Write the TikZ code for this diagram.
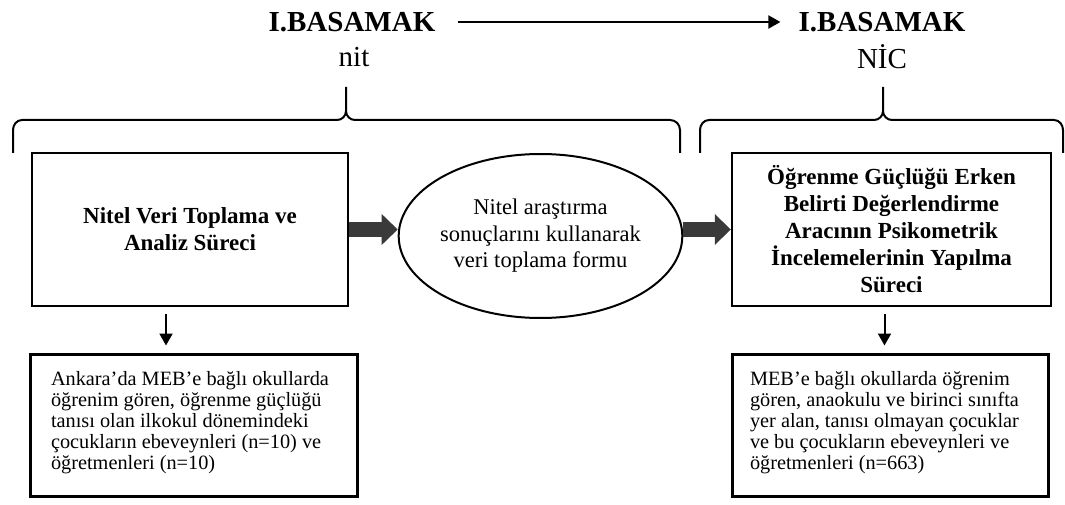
\documentclass[tikz,border=0pt]{standalone}
\usepackage{fontspec}
\setmainfont{Liberation Serif}
\usetikzlibrary{arrows.meta}
\usetikzlibrary{positioning}
\usetikzlibrary{shapes.geometric}
\definecolor{arrowgray}{HTML}{3A3A3A}
\newcommand{\samplebox}[2]{\raisebox{0pt}[\height][\dimexpr\depth+4pt\relax]{\parbox{#1}{#2}}}
\tikzstyle{every node}+=[inner sep=0pt]
\tikzstyle{title} = [font=\fontsize{29}{33}\selectfont\bfseries]
\tikzstyle{subtitle} = [font=\fontsize{29}{33}\selectfont]
\tikzstyle{block} = [rectangle, draw, line width=2.5pt, align=center, minimum height=153pt, font=\fontsize{23}{27}\selectfont\bfseries]
\tikzstyle{oval} = [ellipse, draw, line width=2pt, minimum width=251pt, minimum height=164pt, align=center, font=\fontsize{22.5}{26.5}\selectfont]
\tikzstyle{sample} = [rectangle, draw, line width=3pt, minimum height=142pt, font=\fontsize{20.3}{21}\selectfont]
\tikzstyle{line} = [draw, line width=2pt, -{Triangle[length=12pt,width=13pt]}]
\tikzstyle{bigline} = [draw=arrowgray, line width=15pt, -{Triangle[length=16pt,width=31pt,line width=0pt]}]
\tikzstyle{brace} = [draw, line width=2pt]

\begin{document}
\begin{tikzpicture}[x=1pt, y=1pt]
            \useasboundingbox (0,0) rectangle (1065,504);
            % Place nodes
            \node [title] (t1) at (352,482) {I.BASAMAK};
            \node [subtitle] (s1) at (354,447) {nit};
            \node [title] (t2) at (882,482) {I.BASAMAK};
            \node [subtitle] (s2) at (882,447) {NİC};
            \node [block, minimum width=316pt] (nitel) at (190,274.5) {Nitel Veri Toplama ve\\Analiz Süreci};
            \node [oval] (form) at (540.5,268) {Nitel araştırma\\sonuçlarını kullanarak\\veri toplama formu};
            \node [block, minimum width=319pt] (olcek) at (891.5,274.5) {Öğrenme Güçlüğü Erken\\Belirti Değerlendirme\\Aracının Psikometrik\\İncelemelerinin Yapılma\\Süreci};
            \node [sample, minimum width=327pt] (orn1) at (193.5,79) {\samplebox{285pt}{Ankara’da MEB’e bağlı okullarda\\öğrenim gören, öğrenme güçlüğü\\tanısı olan ilkokul dönemindeki\\çocukların ebeveynleri (n=10) ve\\öğretmenleri (n=10)}};
            \node [sample, minimum width=316pt] (orn2) at (890,79) {\samplebox{280pt}{MEB’e bağlı okullarda öğrenim\\gören, anaokulu ve birinci sınıfta\\yer alan, tanısı olmayan çocuklar\\ve bu çocukların ebeveynleri ve\\öğretmenleri (n=663)}};
            % Braces
            \path [brace] (13,351) -- (13,374) to[out=90,in=180] (22,384) -- (337,384) to[out=0,in=-90] (346,393) -- (346,417);
            \path [brace] (346,393) to[out=-90,in=180] (355,384) -- (670,384) to[out=0,in=90] (680,374) -- (680,351);
            \path [brace] (700,351) -- (700,374) to[out=90,in=180] (709,384) -- (874,384) to[out=0,in=-90] (883,393) -- (883,417);
            \path [brace] (883,393) to[out=-90,in=180] (892,384) -- (1054,384) to[out=0,in=90] (1063,374) -- (1063,351);
            % Draw edges
            \path [line, shorten <=22pt, shorten >=18pt] (t1) -- (t2);
            \path [bigline] (nitel.east) -- (nitel.east -| form.west);
            \path [bigline] (form.east |- olcek.west) -- (olcek.west);
            \path [line, shorten <=7pt, shorten >=7pt] ([xshift=-24pt]nitel.south) -- ([xshift=-24pt]nitel.south |- orn1.north);
            \path [line, shorten <=7pt, shorten >=7pt] ([xshift=-7pt]olcek.south) -- ([xshift=-7pt]olcek.south |- orn2.north);
          \end{tikzpicture}
\end{document}
